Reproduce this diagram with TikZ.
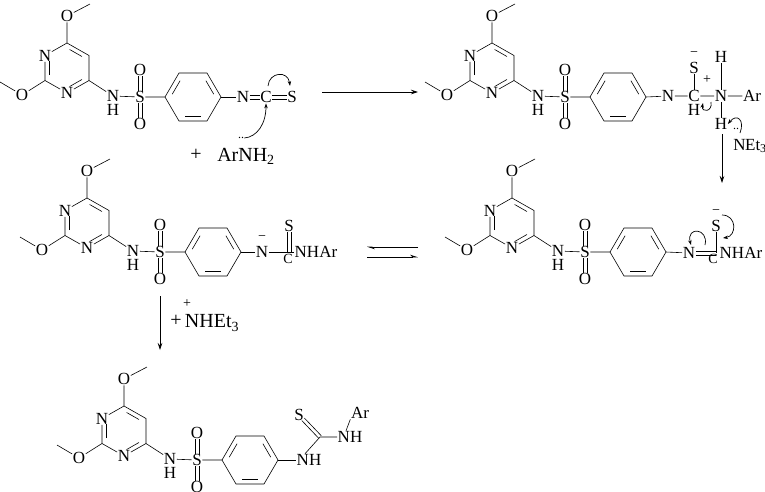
\documentclass[tikz,border=0pt]{standalone}
\usepackage{fontspec}
\setmainfont{Liberation Serif}
\usetikzlibrary{calc,arrows.meta}
\tikzset{
 atm/.style={inner sep=0.4pt,font=\fontsize{17}{17}\selectfont},
 sml/.style={inner sep=0.4pt,font=\fontsize{14}{14}\selectfont},
 big/.style={inner sep=0.5pt,font=\fontsize{20}{20}\selectfont},
 vx/.style={coordinate},
 rx/.style={-{Stealth[length=7pt,width=4.5pt]},line width=0.7pt},
 cu/.style={-{Stealth[length=5pt,width=3.5pt]},line width=0.7pt},
}
\newcommand\innerbond[3]{%
 \coordinate (ia) at ($(#1)!0.2!(#3)$);
 \coordinate (ib) at ($(#2)!0.2!(#3)$);
 \draw ($(ia)!0.15!(ib)$) -- ($(ib)!0.15!(ia)$);}
\newcommand\corefrag[3]{%
\begin{scope}[shift={(#2,#3)}]
 \node[vx] (#1me1) at (90,4) {};
 \node[atm] (#1O1) at (67,16) {O};
 \node[vx] (#1c6) at (67,43) {};
 \node[vx] (#1c5) at (89,55.5) {};
 \node[vx] (#1c4) at (89,80.5) {};
 \node[atm] (#1n3) at (67,93) {N};
 \node[vx] (#1c2) at (45,80.5) {};
 \node[atm] (#1n1) at (45,55.5) {N};
 \coordinate (#1pc) at (67,68);
 \node[atm] (#1O2) at (22,95) {O};
 \node[vx] (#1me2) at (0,82) {};
 \node[atm] (#1nh) at (113,96) {N};
 \node[atm] (#1h) at (113,110) {H};
 \node[atm] (#1s) at (140,97) {S};
 \node[atm] (#1oa) at (140,70) {O};
 \node[atm] (#1ob) at (140,124) {O};
 \node[vx] (#1b1) at (165,97) {};
 \node[vx] (#1b2) at (179,73) {};
 \node[vx] (#1b3) at (207,73) {};
 \node[vx] (#1b4) at (221,97) {};
 \node[vx] (#1b5) at (207,121) {};
 \node[vx] (#1b6) at (179,121) {};
 \coordinate (#1bc) at (193,97);
\end{scope}
 \draw (#1me1) -- (#1O1) -- (#1c6) -- (#1c5) -- (#1c4) -- (#1n3) -- (#1c2) -- (#1n1) -- (#1c6);
 \draw (#1c2) -- (#1O2) -- (#1me2);
 \draw (#1c4) -- (#1nh) -- (#1s) -- (#1b1) -- (#1b2) -- (#1b3) -- (#1b4) -- (#1b5) -- (#1b6) -- (#1b1);
 \innerbond{#1c6}{#1c5}{#1pc}\innerbond{#1c4}{#1n3}{#1pc}\innerbond{#1c2}{#1n1}{#1pc}
 \innerbond{#1b1}{#1b2}{#1bc}\innerbond{#1b3}{#1b4}{#1bc}\innerbond{#1b5}{#1b6}{#1bc}
 \foreach \d in {-1.8,1.8}{
  \draw ([xshift=\d pt]#1s.north) -- ([xshift=\d pt]#1oa.south);
  \draw ([xshift=\d pt]#1s.south) -- ([xshift=\d pt]#1ob.north);}
}
\begin{document}
\begin{tikzpicture}[x=1pt,y=-1pt,line width=0.6pt]
\useasboundingbox (0,0) rectangle (765,491);
% molecule 1
\corefrag{a}{0}{0}
\node[atm] (aN) at (243,97) {N};
\node[atm] (aC) at (266,97) {C};
\node[atm] (aS) at (292,97) {S};
\draw (ab4) -- (aN);
\foreach \d in {-1.8,1.8}{
 \draw ([yshift=\d pt]aN.east) -- ([yshift=\d pt]aC.west);
 \draw ([yshift=\d pt]aC.east) -- ([yshift=\d pt]aS.west);}
\coordinate (ca1) at (268,86); \coordinate (ca2) at (290,86);
\draw[cu] (ca1) .. controls (269,72) and (288,70) .. (ca2);
\node[inner sep=0pt] (lp) at (241,138) {\fontsize{12}{12}\selectfont ..};
\draw[cu] (lp.east) .. controls (257,137) and (266,124) .. (aC.south);
\node[big] (plus1) at (196,155) {+};
\node[big] (amine) at (246,156) {ArNH\textsubscript{2}};
% arrow 1
\coordinate (r1a) at (322,92); \coordinate (r1b) at (418,92);
\draw[rx] (r1a) -- (r1b);
% molecule 2
\corefrag{b}{425}{0}
\node[atm] (bN) at (668,96) {N};
\node[atm] (bC) at (694,96) {C};
\node[atm] (bS) at (694,68) {S};
\node[sml] (bmi) at (694,54) {−};
\node[atm] (bHc) at (694,110) {H};
\node[atm] (bNp) at (721,96) {N};
\node[sml] (bpl) at (707,80) {+};
\node[atm] (bHt) at (721,57) {H};
\node[atm] (bHb) at (721,124) {H};
\node[atm] (bAr) at (752,96) {Ar};
\draw (bb4) -- (bN) -- (bC) -- (bNp) -- (bAr);
\draw (bC) -- (bS); \draw (bNp) -- (bHt); \draw (bNp) -- (bHb);
\coordinate (bl1) at (711,102); \coordinate (bl2) at (703,103);
\draw[cu] (bl1) .. controls (713,112) and (701,113) .. (bl2);
\node[atm] (bEt) at (750,146) {N\kern-0.5ptEt\textsubscript{3}};
\node[inner sep=0pt] at (736,129) {\fontsize{12}{12}\selectfont ..};
\coordinate (bx1) at (740,133);
\draw[cu] (bx1) .. controls (745,120) and (737,113) .. (bHb.east);
\coordinate (r2a) at (722,134); \coordinate (r2b) at (722,183);
\draw[rx] (r2a) -- (r2b);
% molecule 4 (middle right)
\corefrag{d}{445}{155}
\node[atm] (dN) at (689,253) {N};
\node[sml] (dC) at (713,259) {C};
\node[atm,anchor=west] (dNHAr) at (719,253) {NHAr};
\node[atm] (dS) at (716,226) {S};
\node[sml] (dmi) at (716,212) {−};
\draw (db4) -- (dN);
\coordinate (dj) at (716,253);
\draw ([yshift=1.8pt]dN.east) -- ([yshift=1.8pt]dj);
\draw ([yshift=-1.8pt]dN.east) -- ([yshift=-1.8pt]dj);
\draw (dS) -- (dj);
\coordinate (dl1) at (705,245); \coordinate (dl2) at (691,245);
\draw[cu] (dl1) .. controls (709,228) and (686,226) .. (dl2);
\coordinate (dm1) at (722,215); \coordinate (dm2) at (723,238);
\draw[cu] (dm1) .. controls (737,215) and (737,236) .. (dm2);
% equilibrium
\coordinate (e1) at (367,247); \coordinate (e2) at (418,247);
\coordinate (e3) at (367,257); \coordinate (e4) at (418,257);
\draw[-{Stealth[length=7pt,width=4.5pt,harpoon]}] (e2) -- (e1);
\draw[-{Stealth[length=7pt,width=4.5pt,harpoon]}] (e3) -- (e4);
% molecule 3 (middle left)
\corefrag{c}{20}{155}
\node[atm] (cN) at (262,252) {N};
\node[sml] (cmi) at (262,238) {−};
\node[sml] (cC) at (288,259) {C};
\node[atm] (cS) at (289,226) {S};
\node[atm,anchor=west] (cNHAr) at (294,252) {NHAr};
\draw (cb4) -- (cN) -- (cNHAr);
\coordinate (cj) at (289,252);
\draw ([xshift=-1.8pt]cS.south) -- ([xshift=-1.8pt]cj);
\draw ([xshift=1.8pt]cS.south) -- ([xshift=1.8pt]cj);
% arrow 3
\coordinate (r3a) at (160,296); \coordinate (r3b) at (160,350);
\draw[rx] (r3a) -- (r3b);
\node[big] (plus2) at (176,321) {+};
\node[big] (ammon) at (212,323) {NHEt\textsubscript{3}};
\node[sml] (plus3) at (187,304) {+};
% molecule 5
\corefrag{e}{57}{363}
\node[atm] (eNH) at (309,460) {NH};
\node[vx] (eC) at (320,437) {};
\node[atm] (eS) at (299,415) {S};
\node[atm] (eNH2) at (350,437) {NH};
\node[atm] (eAr) at (360,413) {Ar};
\draw (eb4) -- (eNH);
\draw ([xshift=-4pt]eNH.north) -- (eC) -- (eNH2);
\draw ([xshift=-4pt]eNH2.north) -- (eAr.south west);
\draw[shorten >=6pt] ($(eC)!1.8pt!90:(eS)$) -- ($(eS)!1.8pt!-90:(eC)$);
\draw[shorten >=6pt] ($(eC)!1.8pt!-90:(eS)$) -- ($(eS)!1.8pt!90:(eC)$);
\end{tikzpicture}
\end{document}
